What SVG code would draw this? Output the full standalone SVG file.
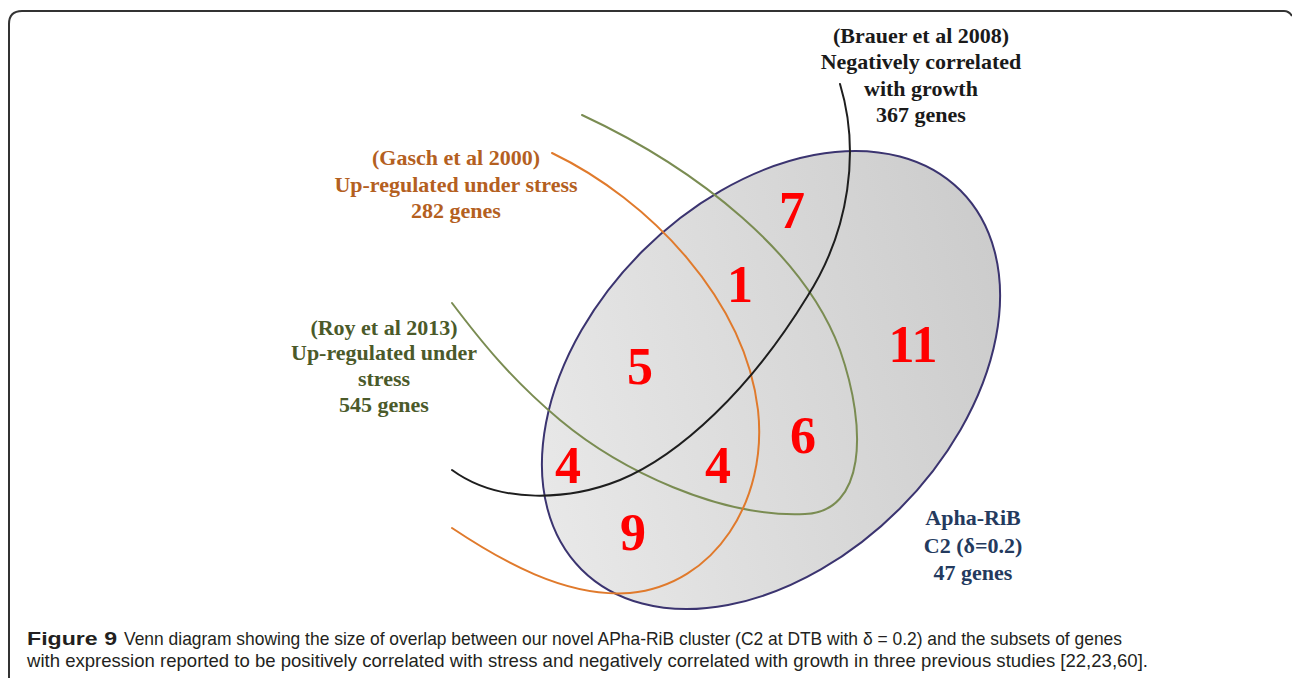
<svg xmlns="http://www.w3.org/2000/svg" width="1292" height="678" viewBox="0 0 1292 678">
<defs>
<linearGradient id="gfill" x1="0" y1="0.3" x2="1" y2="0.7">
<stop offset="0" stop-color="#e9e9e9"/>
<stop offset="1" stop-color="#cbcbcb"/>
</linearGradient>
<style>
.lbl{font-family:"Liberation Serif","Times New Roman",serif;font-weight:bold;font-size:22px;text-anchor:middle}
.num{font-family:"Liberation Serif","Times New Roman",serif;font-weight:bold;font-size:52px;fill:#ff0000;text-anchor:middle}
.curve{fill:none;stroke-width:2;stroke-linecap:round}
.cap{font-family:"Liberation Sans",Arial,sans-serif;font-size:19px;fill:#231f20}
</style>
</defs>
<rect width="1292" height="678" fill="#ffffff"/>
<path d="M9,680 L9,24 Q9,11 22,11 L1284,11 Q1289,11 1292,16" fill="none" stroke="#333" stroke-width="2"/>
<g id="aphariB">
<ellipse cx="771" cy="380" rx="268" ry="182" transform="rotate(-45 771 380)" fill="url(#gfill)" stroke="#3b3470" stroke-width="2"/>
<text class="lbl" fill="#243a5e" font-size="23"><tspan x="973" y="525">Apha-RiB</tspan><tspan x="973" y="553">C2 (δ=0.2)</tspan><tspan x="973" y="580">47 genes</tspan></text>
</g>
<g id="connectors">
<path id="roy-curve" class="curve" stroke="#7a8c52" d="M582,115 C700,170 805,255 840,350 C868,430 865,512 805,514 C720,518 620,470 560,420 C510,378 480,340 452,303"/>
<path id="gasch-curve" class="curve" stroke="#e07a2c" d="M552,153 C650,200 745,300 758,410 C768,500 715,585 630,593 C565,598 500,560 452,528"/>
<path id="brauer-curve" class="curve" stroke="#1e1e1e" d="M840,84 C860,150 850,230 807,297 C750,390 680,455 620,480 C570,500 500,505 452,470"/>
</g>
<g id="brauer">
<text class="lbl" fill="#1a1a1a"><tspan x="921" y="43">(Brauer et al 2008)</tspan><tspan x="921" y="69">Negatively correlated</tspan><tspan x="921" y="96">with growth</tspan><tspan x="921" y="122">367 genes</tspan></text>
</g>
<g id="gasch">
<text class="lbl" fill="#b4601f"><tspan x="456" y="165">(Gasch et al 2000)</tspan><tspan x="456" y="192">Up-regulated under stress</tspan><tspan x="456" y="218">282 genes</tspan></text>
</g>
<g id="roy">
<text class="lbl" fill="#4b5a2a"><tspan x="384" y="335">(Roy et al 2013)</tspan><tspan x="384" y="360">Up-regulated under</tspan><tspan x="384" y="386">stress</tspan><tspan x="384" y="412">545 genes</tspan></text>
</g>
<g id="counts">
<text class="num" x="792" y="228">7</text>
<text class="num" x="740" y="302">1</text>
<text class="num" x="640" y="384">5</text>
<text class="num" x="913" y="362">11</text>
<text class="num" x="803" y="453">6</text>
<text class="num" x="568" y="483">4</text>
<text class="num" x="718" y="483">4</text>
<text class="num" x="633" y="550">9</text>
</g>
<g id="caption">
<text class="cap" x="27" y="645" font-weight="bold" textLength="90" lengthAdjust="spacingAndGlyphs">Figure 9</text>
<text class="cap" x="124" y="645" textLength="998" lengthAdjust="spacingAndGlyphs">Venn diagram showing the size of overlap between our novel APha-RiB cluster (C2 at DTB with δ = 0.2) and the subsets of genes</text>
<text class="cap" x="27" y="667" textLength="1121" lengthAdjust="spacingAndGlyphs">with expression reported to be positively correlated with stress and negatively correlated with growth in three previous studies [22,23,60].</text>
</g>
</svg>
